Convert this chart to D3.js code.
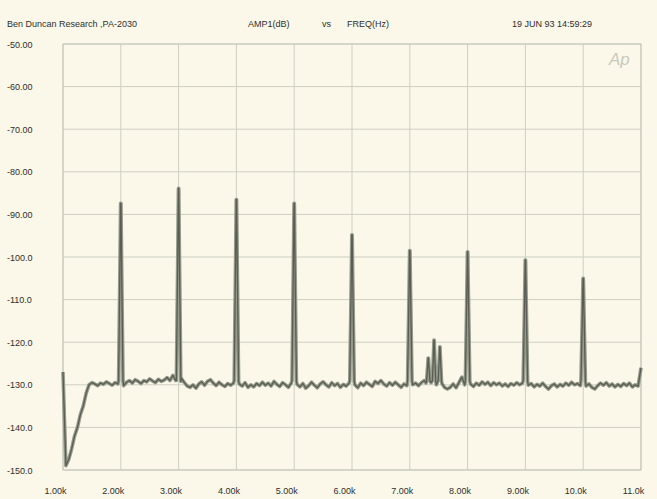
<!DOCTYPE html>
<html><head><meta charset="utf-8">
<script src="https://cdn.jsdelivr.net/npm/d3@7"></script>
<style>
html,body{margin:0;padding:0;background:#fbf8ea;}
svg{display:block;}
text{font-family:"Liberation Sans",Arial,sans-serif;fill:#2e2e2a;}
</style></head>
<body><svg id="c" width="657" height="499"></svg>
<script>
// ---- data ----
const title = "Ben Duncan Research ,PA-2030";
const yName = "AMP1(dB)";
const vsText = "vs";
const xName = "FREQ(Hz)";
const stamp = "19 JUN 93 14:59:29";
const yTicks = [-50,-60,-70,-80,-90,-100,-110,-120,-130,-140,-150];
const yTickLabels = ["-50.00","-60.00","-70.00","-80.00","-90.00","-100.0","-110.0","-120.0","-130.0","-140.0","-150.0"];
const xTicks = [1,2,3,4,5,6,7,8,9,10,11];
const xTickLabels = ["1.00k","2.00k","3.00k","4.00k","5.00k","6.00k","7.00k","8.00k","9.00k","10.0k","11.0k"];
// noise floor, kHz / dB (harmonic bins excluded)
const floorFreq = [1.00,1.05,1.10,1.15,1.20,1.25,1.30,1.35,1.40,1.45,1.50,1.55,1.60,1.65,1.70,1.75,1.80,1.85,1.90,1.95,
 2.05,2.10,2.15,2.20,2.25,2.30,2.35,2.40,2.45,2.50,2.55,2.60,2.65,2.70,2.75,2.80,2.85,2.90,2.95,
 3.05,3.10,3.15,3.20,3.25,3.30,3.35,3.40,3.45,3.50,3.55,3.60,3.65,3.70,3.75,3.80,3.85,3.90,3.95,
 4.05,4.10,4.15,4.20,4.25,4.30,4.35,4.40,4.45,4.50,4.55,4.60,4.65,4.70,4.75,4.80,4.85,4.90,4.95,
 5.05,5.10,5.15,5.20,5.25,5.30,5.35,5.40,5.45,5.50,5.55,5.60,5.65,5.70,5.75,5.80,5.85,5.90,5.95,
 6.05,6.10,6.15,6.20,6.25,6.30,6.35,6.40,6.45,6.50,6.55,6.60,6.65,6.70,6.75,6.80,6.85,6.90,6.95,
 7.05,7.10,7.15,7.20,7.25,7.28,7.37,7.46,7.56,7.60,7.65,7.70,7.75,7.80,7.85,7.90,7.95,
 8.05,8.10,8.15,8.20,8.25,8.30,8.35,8.40,8.45,8.50,8.55,8.60,8.65,8.70,8.75,8.80,8.85,8.90,8.95,
 9.05,9.10,9.15,9.20,9.25,9.30,9.35,9.40,9.45,9.50,9.55,9.60,9.65,9.70,9.75,9.80,9.85,9.90,9.95,
 10.05,10.10,10.15,10.20,10.25,10.30,10.35,10.40,10.45,10.50,10.55,10.60,10.65,10.70,10.75,10.80,10.85,10.90,10.95,11.00];
const floorDb = [-127,-149,-147.5,-145,-142,-140,-137,-135,-132,-130,-129.5,-129.8,-130.2,-129.6,-129.9,-129.3,-129.7,-130.1,-129.5,-129.8,
 -130.2,-129.4,-129.0,-129.6,-128.8,-129.2,-129.7,-129.0,-129.3,-128.6,-129.1,-129.5,-128.7,-129.2,-128.9,-128.3,-129.0,-127.8,-129.0,
 -128.5,-129.5,-130.3,-130.6,-130.0,-130.8,-129.8,-129.3,-130.1,-129.2,-128.8,-129.6,-130.2,-129.4,-130.0,-130.4,-129.7,-130.1,-129.6,
 -129.8,-130.3,-129.5,-130.6,-130.0,-130.5,-129.7,-130.2,-129.4,-130.1,-129.6,-130.3,-129.2,-129.9,-130.4,-129.5,-130.0,-130.6,-129.6,
 -129.9,-130.5,-129.7,-130.8,-130.2,-129.4,-130.1,-130.7,-129.8,-129.3,-130.0,-130.5,-129.5,-130.2,-129.7,-130.6,-129.9,-130.3,-129.6,
 -130.0,-130.7,-129.6,-130.2,-129.4,-129.9,-130.4,-129.2,-129.7,-129.0,-129.8,-130.3,-129.5,-130.1,-129.4,-130.0,-130.6,-129.8,-130.2,
 -130.0,-129.6,-130.2,-129.5,-129.0,-129.6,-129.5,-130.0,-129.8,-130.6,-131.0,-130.6,-129.8,-130.7,-129.5,-128.2,-130.0,
 -129.8,-130.4,-129.6,-130.1,-129.3,-129.9,-129.4,-130.2,-129.5,-130.0,-129.6,-130.3,-129.8,-130.4,-129.7,-130.1,-129.5,-130.0,-129.6,
 -130.1,-129.7,-130.5,-129.9,-130.3,-129.6,-130.4,-131.0,-130.2,-129.8,-130.5,-129.9,-130.3,-129.6,-130.1,-129.4,-130.0,-129.7,-130.2,
 -130.3,-129.8,-130.6,-131.0,-130.2,-129.6,-130.1,-129.5,-130.3,-129.8,-130.5,-129.9,-130.4,-129.7,-130.2,-129.6,-130.5,-130.0,-130.3,-126.0];
// harmonic peaks
const peakFreq = [2,3,4,5,6,7,8,9,10];
const peakDb = [-87.4,-83.9,-86.5,-87.4,-94.8,-98.5,-98.8,-100.7,-105.0];
// spurious components near 7.4k
const spurFreq = [7.32,7.42,7.52];
const spurDb = [-123.7,-119.5,-121.1];

// ---- layout ----
const svg = d3.select("#c");
const L=63, R=641, T=44, B=470;
const x = d3.scaleLinear().domain([1,11]).range([L,R]);
const y = d3.scaleLinear().domain([-50,-150]).range([T,B]);

// build trace
const pts = floorFreq.map((f,i)=>({f:f,v:floorDb[i]}));
function spike(f,v,w){
  pts.push({f:f-w*2.4,v:-129.0},{f:f-w*0.8,v:v+(-129-v)*0.3},{f:f-w*0.2,v:v},{f:f+w*0.2,v:v},{f:f+w*0.8,v:v+(-129-v)*0.3},{f:f+w*2.4,v:-129.2});
}
peakFreq.forEach((f,i)=>spike(f,peakDb[i],0.016));
spurFreq.forEach((f,i)=>spike(f,spurDb[i],0.012));
pts.sort((a,b)=>a.f-b.f);

// grid
const g = svg.append("g");
g.selectAll("line.h").data(yTicks).join("line")
  .attr("x1",L).attr("x2",R).attr("y1",d=>y(d)).attr("y2",d=>y(d))
  .attr("stroke","#cdd0c2").attr("stroke-width",1);
g.selectAll("line.v").data(xTicks).join("line")
  .attr("y1",T).attr("y2",B).attr("x1",d=>x(d)).attr("x2",d=>x(d))
  .attr("stroke","#cdd0c2").attr("stroke-width",1);
g.append("rect").attr("x",L).attr("y",T).attr("width",R-L).attr("height",B-T)
  .attr("fill","none").attr("stroke","#c4c7b8");

// axes labels via d3 axis
const yAxis = d3.axisLeft(y).tickValues(yTicks).tickSize(0).tickFormat((d,i)=>yTickLabels[i]);
const ya = svg.append("g").attr("transform","translate(7,0)").call(yAxis);
ya.select(".domain").remove();
ya.selectAll("text").attr("text-anchor","start").attr("x",0).attr("dy","0.35em")
  .style("font-size","9px").attr("fill","#2e2e2a");

const xAxis = d3.axisBottom(x).tickValues(xTicks).tickSize(0).tickFormat((d,i)=>xTickLabels[i]);
const xa = svg.append("g").attr("transform","translate(-8,491)").call(xAxis);
xa.select(".domain").remove();
xa.selectAll("text").attr("y",0).attr("dy","0.35em").style("font-size","9px").attr("fill","#2e2e2a");

// header
const hdr = svg.append("g").style("font-size","9px");
hdr.append("text").attr("x",7).attr("y",27).text(title);
hdr.append("text").attr("x",248).attr("y",27).text(yName);
hdr.append("text").attr("x",322).attr("y",27).text(vsText);
hdr.append("text").attr("x",347).attr("y",27).text(xName);
hdr.append("text").attr("x",512).attr("y",27).text(stamp);
svg.append("text").attr("x",609).attr("y",65).text("Ap")
  .style("font-size","17px").style("font-style","italic").style("fill","#c9cabd");

// trace
const line = d3.line().x(d=>x(d.f)).y(d=>y(d.v));
svg.append("path").datum(pts).attr("d",line).attr("fill","none")
  .attr("stroke","#969b8d").attr("stroke-width",3.6).attr("stroke-linejoin","round");
svg.append("path").datum(pts).attr("d",line).attr("fill","none")
  .attr("stroke","#595d53").attr("stroke-width",1.3).attr("stroke-linejoin","round");
</script></body></html>
